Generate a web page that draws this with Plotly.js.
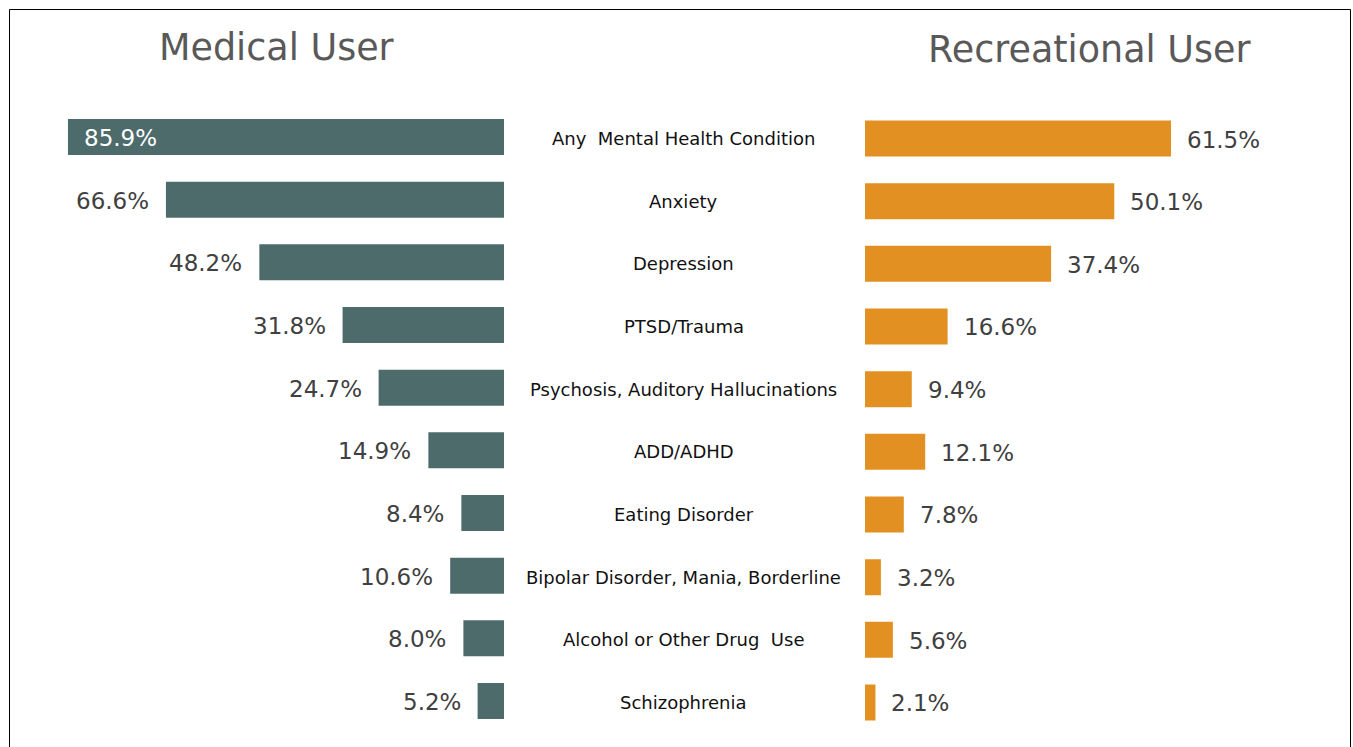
<!DOCTYPE html>
<html>
<head>
<meta charset="utf-8">
<script src="https://cdn.plot.ly/plotly-3.0.1.min.js"></script>
<style>html,body{margin:0;padding:0;background:#fff;}#chart{width:1353px;height:747px;}</style>
</head>
<body>
<div id="chart"></div>
<script>
const categories = [
  "Any\u00a0 Mental Health Condition",
  "Anxiety",
  "Depression",
  "PTSD/Trauma",
  "Psychosis, Auditory Hallucinations",
  "ADD/ADHD",
  "Eating Disorder",
  "Bipolar Disorder, Mania, Borderline",
  "Alcohol or Other Drug\u00a0 Use",
  "Schizophrenia"
];
const medicalValues = [85.9, 66.6, 48.2, 31.8, 24.7, 14.9, 8.4, 10.6, 8.0, 5.2];
const recreationalValues = [61.5, 50.1, 37.4, 16.6, 9.4, 12.1, 7.8, 3.2, 5.6, 2.1];
const titleLeft = "Medical User";
const titleRight = "Recreational User";

const W = 1353, H = 747;
const FONT = "DejaVu Sans, Open Sans, sans-serif";
const teal = "#4d6b6b", orange = "#e39022";

const leftTrace = {
  type: "bar", orientation: "h",
  x: medicalValues, y: categories,
  xaxis: "x", yaxis: "y",
  marker: {color: teal}, width: 0.575,
  hoverinfo: "skip"
};
const rightTrace = {
  type: "bar", orientation: "h",
  x: recreationalValues, y: categories,
  xaxis: "x2", yaxis: "y2",
  marker: {color: orange}, width: 0.575,
  hoverinfo: "skip"
};

const rowTop = 105.67, rowBot = 732.3;
const annotations = [];
categories.forEach((c, i) => {
  annotations.push({
    xref: "paper", yref: "y", x: 684 / W, y: c, yshift: -1.5,
    text: c, showarrow: false, xanchor: "center", yanchor: "middle",
    font: {family: FONT, size: 18, color: "#111111"}
  });
  const inside = i === 0;
  annotations.push({
    xref: "x", yref: "y", x: medicalValues[i], y: c, yshift: -1,
    text: medicalValues[i].toFixed(1) + "%", showarrow: false,
    xanchor: inside ? "left" : "right", yanchor: "middle",
    xshift: inside ? 14 : -15,
    font: {family: FONT, size: 23, color: inside ? "#ffffff" : "#404040"}
  });
  annotations.push({
    xref: "x2", yref: "y2", x: recreationalValues[i], y: c, yshift: -1,
    text: recreationalValues[i].toFixed(1) + "%", showarrow: false,
    xanchor: "left", yanchor: "middle", xshift: 14,
    font: {family: FONT, size: 23, color: "#404040"}
  });
});
annotations.push({
  xref: "paper", yref: "paper", x: 276 / W, y: 1 - 47 / H,
  text: titleLeft, showarrow: false, xanchor: "center", yanchor: "middle",
  font: {family: FONT, size: 36.5, color: "#595959"}
});
annotations.push({
  xref: "paper", yref: "paper", x: 1089 / W, y: 1 - 49 / H,
  text: titleRight, showarrow: false, xanchor: "center", yanchor: "middle",
  font: {family: FONT, size: 36.5, color: "#595959"}
});

const layout = {
  width: W, height: H,
  margin: {l: 0, r: 0, t: 0, b: 0},
  paper_bgcolor: "#ffffff", plot_bgcolor: "rgba(0,0,0,0)",
  showlegend: false,
  xaxis: {domain: [0, 504 / W], range: [504 / 5.076, 0], visible: false, fixedrange: true},
  xaxis2: {domain: [865 / W, 1], range: [0, (W - 865) / 4.976], visible: false, fixedrange: true, anchor: "y2"},
  yaxis: {domain: [1 - rowBot / H, 1 - rowTop / H], type: "category", categoryorder: "array", categoryarray: categories,
          autorange: "reversed", visible: false, fixedrange: true},
  yaxis2: {domain: [1 - (rowBot + 1.5) / H, 1 - (rowTop + 1.5) / H], type: "category", categoryorder: "array", categoryarray: categories,
          autorange: "reversed", visible: false, fixedrange: true, anchor: "x2"},
  annotations: annotations,
  shapes: [{
    type: "rect", xref: "paper", yref: "paper",
    x0: 9.5 / W, x1: 1350.5 / W, y0: -0.05, y1: 1 - 9.5 / H,
    line: {color: "#000000", width: 1}, fillcolor: "rgba(0,0,0,0)"
  }]
};

Plotly.newPlot("chart", [leftTrace, rightTrace], layout, {displayModeBar: false, staticPlot: true});
</script>
</body>
</html>
